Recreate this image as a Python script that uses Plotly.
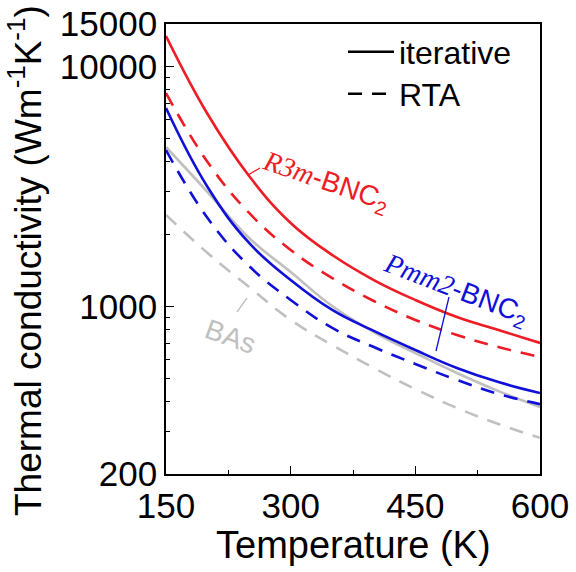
import plotly.graph_objects as go

# Temperature (K)
temperature = [150, 200, 250, 300, 350, 400, 450, 500, 550, 600]

# Thermal conductivity (W m^-1 K^-1)
r3m_iterative = [13370, 6325, 3490, 2224, 1635, 1286, 1062, 902, 796, 703]
r3m_rta = [7736, 3990, 2448, 1715, 1311, 1052, 877, 759, 676, 615]
pmm2_iterative = [6700, 3140, 1835, 1286, 965, 789, 657, 553, 483, 435]
pmm2_rta = [4477, 2332, 1471, 1062, 812, 676, 575, 493, 431, 391]
bas_iterative = [4610, 2992, 1925, 1389, 1002, 781, 638, 527, 443, 380]
bas_rta = [2400, 1667, 1203, 877, 689, 553, 452, 377, 323, 283]

y_tickvals = [200, 1000, 10000, 15000]
y_ticktext = ["200", "1000", "10000", "15000"]
y_minor = [300, 400, 500, 600, 700, 800, 900, 2000, 3000, 4000, 5000, 6000, 7000, 8000, 9000]
x_tickvals = [150, 300, 450, 600]
x_minor = [225, 375, 525]

RED = "#ee1c25"
BLUE = "#1010d8"
GRAY = "#c0c0c0"
DASH = "14px,10px"
FONT = "Liberation Sans, Arial, sans-serif"

W, H = 576, 572
L, T = 166, 24
pw, ph = 374, 450
R = W - L - pw
B = H - T - ph

def px(page_x):
    return (page_x - L) / pw

def py(page_y):
    return (T + ph - page_y) / ph

fig = go.Figure()

series = [
    (bas_rta, GRAY, DASH),
    (bas_iterative, GRAY, "solid"),
    (pmm2_rta, BLUE, DASH),
    (pmm2_iterative, BLUE, "solid"),
    (r3m_rta, RED, DASH),
    (r3m_iterative, RED, "solid"),
]
for vals, col, dash in series:
    fig.add_trace(go.Scatter(
        x=temperature, y=vals, mode="lines",
        line=dict(color=col, width=2.6, dash=dash, shape="spline", smoothing=1.2),
        showlegend=False, hoverinfo="skip"))

# legend entries
fig.add_trace(go.Scatter(x=[None], y=[None], mode="lines", name="iterative",
                         line=dict(color="black", width=2.6), legend="legend"))
fig.add_trace(go.Scatter(x=[None], y=[None], mode="lines", name="RTA",
                         line=dict(color="black", width=2.6, dash=DASH), legend="legend2"))

# leader lines
for (x0, y0, x1, y1, col) in [
    (248, 175, 260, 168, RED),
    (449, 297, 436, 351, BLUE),
    (247, 298, 237, 312, GRAY),
]:
    fig.add_shape(type="line", xref="paper", yref="paper",
                  x0=px(x0), y0=py(y0), x1=px(x1), y1=py(y1),
                  line=dict(color=col, width=1.3))

labels = [
    ("<span style='font-family:Liberation Serif'><i>R3m</i></span>-BNC<sub>2</sub>", 326, 182, RED, 19),
    ("<span style='font-family:Liberation Serif'><i>Pmm2</i></span>-BNC<sub>2</sub>", 456, 290, BLUE, 21),
    ("BAs", 230, 336, GRAY, 20),
]
for text, x, y, col, ang in labels:
    fig.add_annotation(xref="paper", yref="paper", x=px(x), y=py(y),
                       text=text, showarrow=False, textangle=ang,
                       xanchor="center", yanchor="middle",
                       font=dict(family=FONT, size=28, color=col))

# axis titles
fig.add_annotation(xref="paper", yref="paper", x=px(25), y=py(261),
                   text="Thermal conductivity (Wm<sup>-1</sup>K<sup>-1</sup>)",
                   showarrow=False, textangle=-90, xanchor="center", yanchor="middle",
                   font=dict(family=FONT, size=37, color="black"))
fig.add_annotation(xref="paper", yref="paper", x=px(353), y=py(545),
                   text="Temperature (K)",
                   showarrow=False, xanchor="center", yanchor="middle",
                   font=dict(family=FONT, size=38, color="black"))

leg_common = dict(xanchor="left", yanchor="middle", bgcolor="rgba(0,0,0,0)", borderwidth=0,
                  font=dict(family=FONT, size=32, color="black"), itemwidth=46)

fig.update_layout(
    width=W, height=H,
    margin=dict(l=L, r=R, t=T, b=B, pad=0, autoexpand=False),
    paper_bgcolor="white", plot_bgcolor="white",
    font=dict(family=FONT, color="black"),
    showlegend=True,
    legend=dict(x=px(343), y=py(52), **leg_common),
    legend2=dict(x=px(343), y=py(94), **leg_common),
    xaxis=dict(
        range=[150, 600], showgrid=False, zeroline=False, automargin=False,
        showline=True, linecolor="black", linewidth=1.6, mirror=True,
        ticks="inside", ticklen=8, tickwidth=1.4, tickcolor="black",
        tickmode="array", tickvals=x_tickvals, ticklabeloverflow="allow",
        tickfont=dict(family=FONT, size=35, color="black"),
        minor=dict(tickvals=x_minor, ticks="inside", ticklen=4, tickwidth=1.4, tickcolor="black"),
    ),
    yaxis=dict(
        type="log", range=[2.30103, 4.176091], showgrid=False, zeroline=False, automargin=False,
        showline=True, linecolor="black", linewidth=1.6, mirror=True,
        ticks="inside", ticklen=8, tickwidth=1.4, tickcolor="black",
        tickmode="array", tickvals=y_tickvals, ticktext=y_ticktext, ticklabeloverflow="allow",
        tickfont=dict(family=FONT, size=35, color="black"),
        minor=dict(tickvals=y_minor, ticks="inside", ticklen=4, tickwidth=1.4, tickcolor="black"),
    ),
)

fig.write_html("out.html", config={"displayModeBar": False},
               post_script="document.body.style.margin='0';document.body.style.overflow='hidden';")
